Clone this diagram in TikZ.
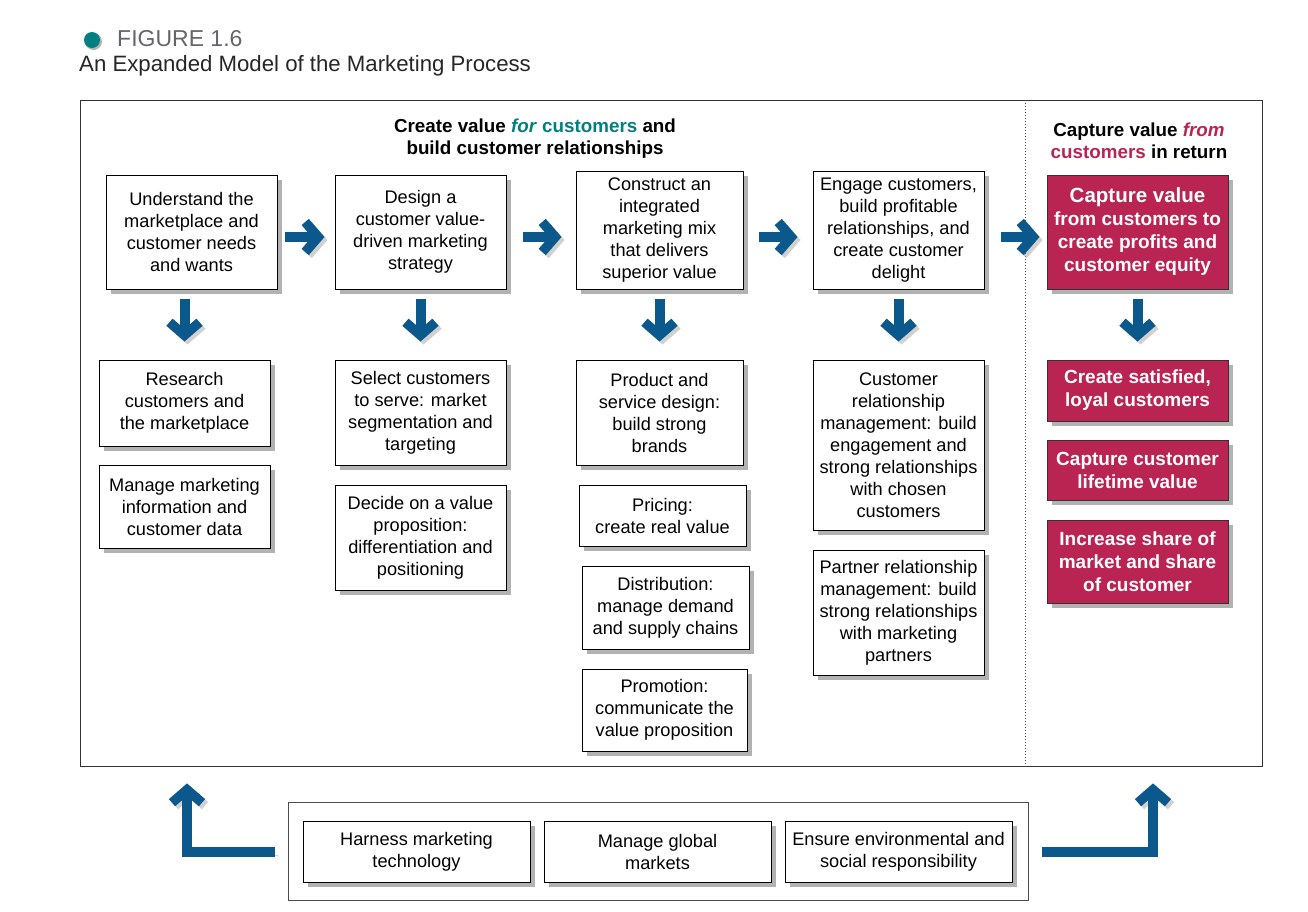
\documentclass[tikz,border=0pt]{standalone}
\usepackage{fontspec}
\setmainfont{Liberation Sans}
\usetikzlibrary{arrows.meta,shadows}
\definecolor{tealc}{RGB}{0,128,128}
\definecolor{crim}{RGB}{186,36,82}
\definecolor{ablue}{RGB}{10,88,140}
\definecolor{tgray}{RGB}{100,101,105}
\begin{document}
\begin{tikzpicture}[x=1pt,y=-1pt,
  wbox/.style={draw=black, line width=1pt, fill=white, align=center, inner sep=2pt,
    font=\fontsize{18.2}{22}\selectfont,
    drop shadow={shadow xshift=5pt,shadow yshift=-5pt,fill=black!60,opacity=0.5}},
  rbox/.style={wbox, fill=crim, draw=black!80, text=white, font=\fontsize{19}{23}\bfseries\selectfont},
  sz/.style 2 args={minimum width=#1pt, minimum height=#2pt},
  barrow/.style={draw=ablue, line width=10pt,
    -{Straight Barb[length=13pt,width=30pt,line width=9.5pt]},
    preaction={draw=black!40, opacity=0.45, transform canvas={xshift=3pt,yshift=-3pt}}},
  hdr/.style={align=center, font=\fontsize{18.8}{22}\bfseries\selectfont},
]
\useasboundingbox (0,0) rectangle (1308,911);

% title
\fill[black!30] (93.5,41.5) circle (8.5);
\fill[tealc] (92,40) circle (8);
\node[anchor=west, text=tgray, inner sep=0, font=\fontsize{23}{27}\selectfont] (fig) at (117,39) {FIGURE 1.6};
\node[anchor=west, text=black!85, inner sep=0, font=\fontsize{22.2}{26}\selectfont] (sub) at (79,66) {An Expanded Model of the Marketing Process};

% main frame
\node[draw=black!80, line width=0.8pt, sz={1182}{666}] (main) at (671,433) {};
\draw[black!70, line width=1pt, dotted] (main.north -| 1025,0) -- (main.south -| 1025,0);

% headers
\node[hdr] (h1) at (535,139) {Create value \textcolor{tealc}{\textit{for} customers} and\\build customer relationships};
\node[hdr] (h2) at (1139,141) {Capture value \textcolor{crim}{\textit{from}}\\\textcolor{crim}{customers} in return};

% top row
\node[wbox, sz={171}{114}] (u1) at (191.5,232) {Understand the\\marketplace and\\customer needs\\and wants};
\node[wbox, sz={171}{114}] (u2) at (420.5,232) {Design a\\customer value-\\driven marketing\\strategy};
\node[wbox, sz={167}{118}] (u3) at (659.5,230) {Construct an\\integrated\\marketing mix\\that delivers\\superior value};
\node[wbox, sz={171}{118}] (u4) at (898.5,230) {Engage customers,\\build profitable\\relationships, and\\create customer\\delight};
\node[rbox, sz={181}{114}] (r1) at (1137.5,232) {{\fontsize{20.5}{23}\selectfont Capture value}\\from customers to\\create profits and\\customer equity};

% second level
\node[wbox, sz={171}{86}] (a1) at (184.5,403) {Research\\customers and\\the marketplace};
\node[wbox, sz={171}{83}] (a2) at (184.5,506.5) {Manage marketing\\information and\\customer data};
\node[wbox, sz={171}{105}] (b1) at (420.5,412.5) {Select customers\\to serve: market\\segmentation and\\targeting};
\node[wbox, sz={171}{105}] (b2) at (420.5,537.5) {Decide on a value\\proposition:\\differentiation and\\positioning};
\node[wbox, sz={167}{105}] (c1) at (659.5,412.5) {Product and\\service design:\\build strong\\brands};
\node[wbox, sz={167}{61}] (c2) at (662.5,515.5) {Pricing:\\create real value};
\node[wbox, sz={167}{83}] (c3) at (665.5,607.5) {Distribution:\\manage demand\\and supply chains};
\node[wbox, sz={165}{82}] (c4) at (664.5,710) {Promotion:\\communicate the\\value proposition};
\node[wbox, sz={171}{170}] (d1) at (898.5,445) {Customer\\relationship\\management: build\\engagement and\\strong relationships\\with chosen\\customers};
\node[wbox, sz={171}{125}] (d2) at (898.5,612.5) {Partner relationship\\management: build\\strong relationships\\with marketing\\partners};
\node[rbox, sz={181}{61}] (r2) at (1137.5,390.5) {Create satisfied,\\loyal customers};
\node[rbox, sz={181}{60}] (r3) at (1137.5,470) {Capture customer\\lifetime value};
\node[rbox, sz={181}{83}] (r4) at (1137.5,561.5) {Increase share of\\market and share\\of customer};

% bottom
\node[draw=black!70, line width=0.8pt, sz={740}{98}] (bot) at (658,851) {};
\node[wbox, sz={227}{61}] (e1) at (416.5,851.5) {Harness marketing\\technology};
\node[wbox, sz={227}{61}] (e2) at (657.5,851.5) {Manage global\\markets};
\node[wbox, sz={227}{61}] (e3) at (898.5,851.5) {Ensure environmental and\\social responsibility};

% horizontal arrows
\draw[barrow, shorten <=7pt, shorten >=10pt] (u1.east |- 0,237) -- (u2.west |- 0,237);
\draw[barrow, shorten <=16pt, shorten >=14pt] (u2.east |- 0,237) -- (u3.west |- 0,237);
\draw[barrow, shorten <=15pt, shorten >=15pt] (u3.east |- 0,237) -- (u4.west |- 0,237);
\draw[barrow, shorten <=16pt, shorten >=7pt] (u4.east |- 0,237) -- (r1.west |- 0,237);

% down arrows
\draw[barrow, shorten <=9pt, shorten >=18pt] (a1.north |- u1.south) -- (a1.north);
\draw[barrow, shorten <=9pt, shorten >=18pt] (b1.north |- u2.south) -- (b1.north);
\draw[barrow, shorten <=9pt, shorten >=18pt] (c1.north |- u3.south) -- (c1.north);
\draw[barrow, shorten <=9pt, shorten >=18pt] (d1.north |- u4.south) -- (d1.north);
\draw[barrow, shorten <=9pt, shorten >=18pt] (r2.north |- r1.south) -- (r2.north);

% bottom L arrows
\coordinate (lc) at (187,852);
\coordinate (rc) at (1153,852);
\draw[barrow, shorten <=13pt, shorten >=17pt] (bot.west |- lc) -- (lc) -- (lc |- main.south);
\draw[barrow, shorten <=14pt, shorten >=17pt] (bot.east |- rc) -- (rc) -- (rc |- main.south);
\end{tikzpicture}
\end{document}
